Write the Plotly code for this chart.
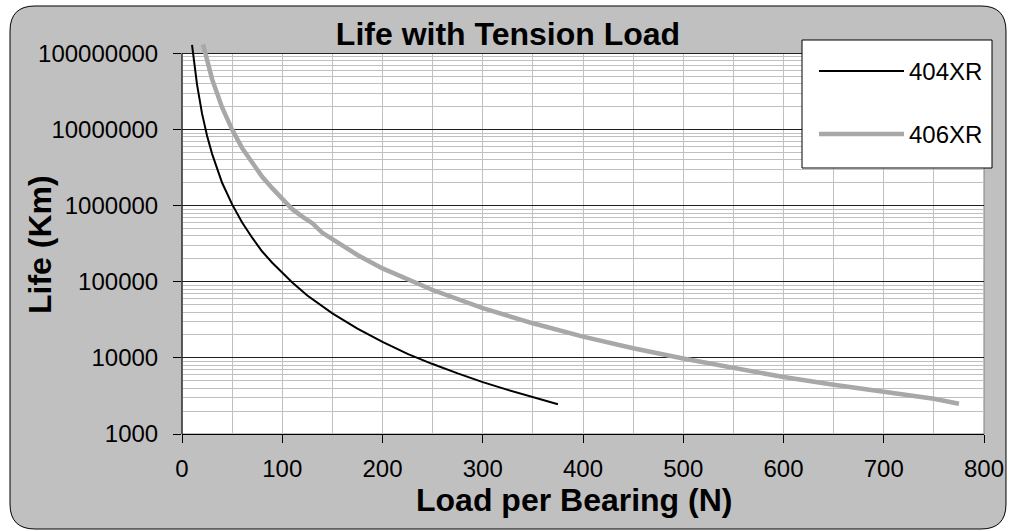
import plotly.graph_objects as go

# ---------------- data ----------------
load_404 = [10, 12, 15, 20, 25, 30, 40, 50, 60, 70, 80, 90, 100, 110, 125,
            150, 175, 200, 225, 250, 275, 300, 325, 350, 375]
life_404 = [1.3e8, 7.5e7, 3.9e7, 1.62e7, 8.3e6, 4.8e6, 2.0e6, 1.04e6, 6.0e5,
            3.8e5, 2.5e5, 1.78e5, 1.3e5, 9.8e4, 6.6e4, 3.85e4, 2.43e4, 1.62e4,
            1.13e4, 8300, 6250, 4800, 3800, 3030, 2460]

load_406 = [21, 25, 30, 40, 50, 60, 70, 80, 90, 100, 110, 120, 130, 140, 150,
            175, 200, 225, 250, 300, 350, 400, 450, 500, 550, 600, 650, 700,
            750, 775]
life_406 = [1.32e8, 7.9e7, 4.6e7, 1.95e7, 1.0e7, 5.7e6, 3.6e6, 2.4e6, 1.7e6,
            1.25e6, 9.0e5, 7.2e5, 5.9e5, 4.4e5, 3.6e5, 2.25e5, 1.5e5, 1.07e5,
            7.8e4, 4.5e4, 2.85e4, 1.9e4, 1.34e4, 9.8e3, 7.3e3, 5.6e3, 4.45e3,
            3.55e3, 2.9e3, 2.5e3]

series_names = ["404XR", "406XR"]
x_tickvals = [0, 100, 200, 300, 400, 500, 600, 700, 800]
y_tickvals = [1e3, 1e4, 1e5, 1e6, 1e7, 1e8]
y_ticktext = ["1000", "10000", "100000", "1000000", "10000000", "100000000"]
y_minorvals = [m * 10 ** d for d in range(3, 8) for m in range(2, 10)]

title_text = "Life with Tension Load"
x_title = "Load per Bearing (N)"
y_title = "Life (Km)"

# ---------------- layout geometry ----------------
W, H = 1015, 531
ML, MR, MT, MB = 182, 31, 43, 97
PW, PH = W - ML - MR, H - MT - MB
Y_TOP_LOG = 8.138
FONT = "Liberation Sans, Arial, sans-serif"
GRAY_BG = "#c0c0c0"
LINE_GRAY = "#a8a8a8"


def fx(p):
    return (p - ML) / PW


def fy(q):
    return (H - MB - q) / PH


fig = go.Figure()
fig.add_trace(go.Scatter(x=load_404, y=life_404, mode="lines", name=series_names[0],
                         line=dict(color="black", width=2), showlegend=False))
fig.add_trace(go.Scatter(x=load_406, y=life_406, mode="lines", name=series_names[1],
                         line=dict(color=LINE_GRAY, width=4.5), showlegend=False))

# outer rounded chart area
l, r, t, b, rad = 10, 1006, 6, 529, 25
pts = [("M", (l + rad, t)), ("L", (r - rad, t)), ("Q", (r, t), (r, t + rad)),
       ("L", (r, b - rad)), ("Q", (r, b), (r - rad, b)), ("L", (l + rad, b)),
       ("Q", (l, b), (l, b - rad)), ("L", (l, t + rad)), ("Q", (l, t), (l + rad, t))]
path = ""
for item in pts:
    cmd = item[0]
    coords = " ".join(f"{fx(p[0]):.5f},{fy(p[1]):.5f}" for p in item[1:])
    path += f"{cmd}{coords} "
path += "Z"

plot_top = fy(53.5)
shapes = [
    dict(type="path", path=path, xref="paper", yref="paper", layer="below",
         fillcolor=GRAY_BG, line=dict(color="black", width=1)),
    dict(type="rect", xref="paper", yref="paper", x0=0, x1=1, y0=0, y1=plot_top,
         layer="below", fillcolor="white", line=dict(color="#808080", width=1)),
    dict(type="line", xref="paper", yref="paper", x0=0, x1=0, y0=0, y1=plot_top,
         layer="above", line=dict(color="black", width=1)),
    # legend box
    dict(type="rect", xref="paper", yref="paper", x0=fx(802), x1=fx(992),
         y0=fy(168), y1=fy(40), layer="above", fillcolor="white",
         line=dict(color="black", width=1)),
    dict(type="line", xref="paper", yref="paper", x0=fx(819), x1=fx(904),
         y0=fy(71), y1=fy(71), layer="above", line=dict(color="black", width=2)),
    dict(type="line", xref="paper", yref="paper", x0=fx(819), x1=fx(904),
         y0=fy(134), y1=fy(134), layer="above", line=dict(color=LINE_GRAY, width=4.5)),
]

annotations = [
    dict(text=series_names[0], xref="paper", yref="paper", x=fx(907), y=fy(71),
         xanchor="left", yanchor="middle", showarrow=False,
         font=dict(family=FONT, size=24, color="black")),
    dict(text=series_names[1], xref="paper", yref="paper", x=fx(907), y=fy(134),
         xanchor="left", yanchor="middle", showarrow=False,
         font=dict(family=FONT, size=24, color="black")),
    dict(text=y_title, xref="paper", yref="paper", x=fx(40), y=fy(245),
         xanchor="center", yanchor="middle", textangle=-90, showarrow=False,
         font=dict(family=FONT, size=32, color="black", weight="bold")),
    dict(text=x_title, xref="paper", yref="paper", x=fx(574), y=fy(500),
         xanchor="center", yanchor="middle", showarrow=False,
         font=dict(family=FONT, size=32, color="black", weight="bold")),
]

fig.update_layout(
    width=W, height=H, autosize=False,
    margin=dict(l=ML, r=MR, t=MT, b=MB, pad=0),
    paper_bgcolor="white", plot_bgcolor="rgba(0,0,0,0)",
    font=dict(family=FONT, color="black", size=24),
    showlegend=False,
    title=dict(text=title_text, xref="container", yref="container",
               x=508 / W, y=(H - 34) / H, xanchor="center", yanchor="middle",
               font=dict(family=FONT, size=32, color="black", weight="bold")),
    shapes=shapes, annotations=annotations,
    xaxis=dict(range=[0, 800], tickmode="array", tickvals=x_tickvals,
               ticks="outside", ticklen=8, tickcolor="black", tickwidth=1,
               showline=True, linecolor="black", linewidth=1,
               showgrid=True, gridcolor=GRAY_BG, gridwidth=1, zeroline=False,
               minor=dict(dtick=50, showgrid=True, gridcolor=GRAY_BG, ticks=""),
               tickfont=dict(size=24), ticklabelstandoff=5),
    yaxis=dict(type="log", range=[3, Y_TOP_LOG], tickmode="array",
               tickvals=y_tickvals, ticktext=y_ticktext,
               ticks="outside", ticklen=8, tickcolor="black", tickwidth=1,
               showline=False, showgrid=True, gridcolor="#202020", gridwidth=1,
               zeroline=False,
               minor=dict(tickmode="array", tickvals=y_minorvals, showgrid=True,
                          gridcolor=GRAY_BG, ticks=""),
               tickfont=dict(size=24), ticklabelstandoff=10),
)

fig.write_html("out.html", config={"displayModeBar": False},
               post_script="document.body.style.margin='0';")
